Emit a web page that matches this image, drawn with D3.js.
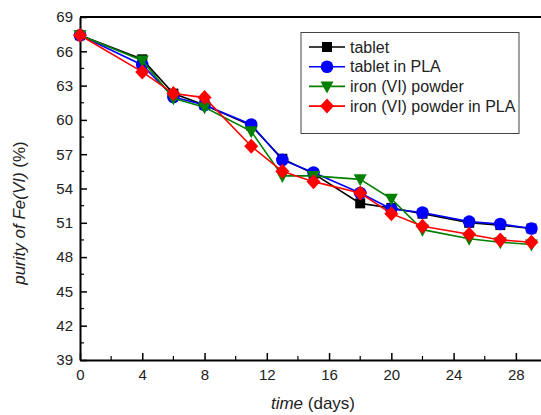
<!DOCTYPE html>
<html>
<head>
<meta charset="utf-8">
<script src="https://cdn.jsdelivr.net/npm/d3@7"></script>
<style>
  html, body { margin: 0; padding: 0; background: #fff; }
  svg { display: block; font-family: "Liberation Sans", Arial, sans-serif; }
</style>
</head>
<body>
<svg id="chart" width="541" height="415"></svg>
<script>
// Sampling days
const days = [0, 4, 6, 8, 11, 13, 15, 18, 20, 22, 25, 27, 29];

// Purity of Fe(VI) (%) for each sample
const tablet        = [67.4, 65.3, 62.3, 61.3, 59.5, 56.6, 55.3, 52.7, 52.3, 51.8, 51.0, 50.8, 50.5];
const tabletPLA     = [67.4, 64.8, 62.0, 61.3, 59.6, 56.5, 55.4, 53.6, 52.2, 51.9, 51.1, 50.9, 50.5];
const powder        = [67.4, 65.2, 61.9, 61.1, 59.0, 55.1, 55.1, 54.8, 53.1, 50.4, 49.6, 49.3, 49.1];
const powderPLA     = [67.4, 64.2, 62.3, 61.95, 57.7, 55.5, 54.6, 53.6, 51.8, 50.7, 50.0, 49.5, 49.3];

const seriesNames   = ["tablet", "tablet in PLA", "iron (VI) powder", "iron (VI) powder in PLA"];
const seriesColors  = ["#000000", "#0000ff", "#008000", "#ff0000"];
const seriesSymbols = ["square", "circle", "triangle", "diamond"];

const xTicks = [0, 4, 8, 12, 16, 20, 24, 28];
const yTicks = [39, 42, 45, 48, 51, 54, 57, 60, 63, 66, 69];

const series = [tablet, tabletPLA, powder, powderPLA].map((vals, i) => ({
  name: seriesNames[i], color: seriesColors[i], symbol: seriesSymbols[i],
  points: days.map((d, j) => ({ x: d, y: vals[j] }))
}));

const svg = d3.select("#chart");
const plotLeft = 80, plotTop = 17, plotBottom = 360, plotRight = 547;

const x = d3.scaleLinear().domain([0, 30]).range([plotLeft, plotRight]);
const y = d3.scaleLinear().domain([39, 69]).range([plotBottom, plotTop]);

// Minor ticks
const g = svg.append("g");
g.selectAll(".ymin").data(d3.range(40.5, 69, 3)).join("line")
  .attr("x1", plotLeft).attr("x2", plotLeft + 4)
  .attr("y1", d => y(d)).attr("y2", d => y(d))
  .attr("stroke", "#000").attr("stroke-width", 1.2);
g.selectAll(".xmin").data(d3.range(2, 30, 4)).join("line")
  .attr("x1", d => x(d)).attr("x2", d => x(d))
  .attr("y1", plotBottom).attr("y2", plotBottom - 4)
  .attr("stroke", "#000").attr("stroke-width", 1.2);

// Axes with inward ticks
const yAxis = d3.axisLeft(y).tickValues(yTicks).tickSizeInner(-7).tickSizeOuter(0).tickPadding(7);
const xAxis = d3.axisBottom(x).tickValues(xTicks).tickSizeInner(-7).tickSizeOuter(0).tickPadding(9);

const ya = svg.append("g").attr("transform", `translate(${plotLeft},0)`).call(yAxis);
const xa = svg.append("g").attr("transform", `translate(0,${plotBottom})`).call(xAxis);
[ya, xa].forEach(a => {
  a.select(".domain").attr("stroke", "#000").attr("stroke-width", 2);
  a.selectAll(".tick line").attr("stroke", "#000").attr("stroke-width", 1.5);
  a.selectAll(".tick text").attr("font-size", 15).attr("fill", "#222")
    .attr("font-family", "Liberation Sans, Arial, sans-serif");
});

// Top frame line
svg.append("line").attr("x1", plotLeft).attr("x2", plotRight)
  .attr("y1", plotTop).attr("y2", plotTop).attr("stroke", "#000").attr("stroke-width", 2);

// Axis titles
const xt = svg.append("text").attr("x", 313).attr("y", 409)
  .attr("text-anchor", "middle").attr("font-size", 17).attr("fill", "#222");
xt.append("tspan").attr("font-style", "italic").text("time");
xt.append("tspan").text(" (days)");

const yt = svg.append("text").attr("transform", "translate(25,213) rotate(-90)")
  .attr("text-anchor", "middle").attr("font-size", 17).attr("fill", "#222");
yt.append("tspan").attr("font-style", "italic").text("purity of Fe(VI)");
yt.append("tspan").text(" (%)");

// Marker symbols
const symbolPath = (type) => {
  if (type === "square") return d3.symbol(d3.symbolSquare, 100)();
  if (type === "circle") return d3.symbol(d3.symbolCircle, 125)();
  if (type === "triangle") return "M-6.5,-5 L6.5,-5 L0,7 Z";
  return "M0,-7.5 L7,0 L0,7.5 L-7,0 Z";
};

const line = d3.line().x(d => x(d.x)).y(d => y(d.y));

series.forEach(s => {
  const sg = svg.append("g");
  sg.append("path").datum(s.points).attr("d", line)
    .attr("fill", "none").attr("stroke", s.color).attr("stroke-width", 1.6);
  sg.selectAll("path.m").data(s.points).join("path").attr("class", "m")
    .attr("d", symbolPath(s.symbol))
    .attr("transform", d => `translate(${x(d.x)},${y(d.y)})`)
    .attr("fill", s.color);
});

// Legend
const lg = svg.append("g");
lg.append("rect").attr("x", 301).attr("y", 32.5).attr("width", 218).attr("height", 101)
  .attr("fill", "#fff").attr("stroke", "#444").attr("stroke-width", 1);
series.forEach((s, i) => {
  const ly = 47 + i * 19.7;
  lg.append("line").attr("x1", 309).attr("x2", 345).attr("y1", ly).attr("y2", ly)
    .attr("stroke", s.color).attr("stroke-width", 1.6);
  lg.append("path").attr("d", symbolPath(s.symbol))
    .attr("transform", `translate(327,${ly})`).attr("fill", s.color);
  lg.append("text").attr("x", 350).attr("y", ly + 5.5)
    .attr("font-size", 16).attr("fill", "#222").text(s.name);
});
</script>
</body>
</html>
